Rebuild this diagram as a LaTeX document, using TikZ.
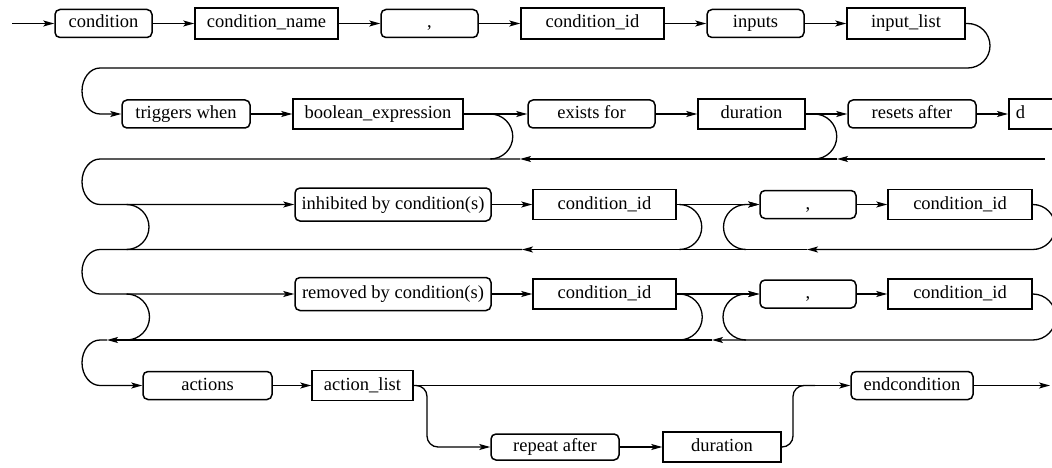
\documentclass[tikz,border=0pt]{standalone}
\usepackage{fontspec}
\setmainfont{Liberation Serif}
\usepackage{tikz}
\usetikzlibrary{positioning,arrows.meta}

\begin{document}
\begin{tikzpicture}[
        x=1pt, y=1pt, line width=1.3pt,
        font=\fontsize{18.5}{22}\selectfont,
        kw/.style={draw, rounded corners=5pt, line width=1.5pt, minimum height=28pt, inner sep=0pt, text height=13pt, text depth=4pt},
        nt/.style={draw, rectangle, line width=1.5pt, minimum height=30pt, inner sep=0pt, text height=13pt, text depth=4pt},
        msg/.style={-{Stealth[length=11pt,width=6pt,inset=2.5pt]}}
    ]
        \useasboundingbox (0,0) rectangle (1052,-468);
        \clip (0,0) rectangle (1052,-468);

        % Row 1: header
        \coordinate (in) at (12,-23.5);
        \node[kw, minimum width=97pt] (cond) at (103.5,-23.5) {condition};
        \node[nt, minimum width=143pt, minimum height=31pt] (cname) at (266.5,-23.5) {condition\_name};
        \node[kw, minimum width=97pt] (comma1) at (429.5,-23.5) {,};
        \node[nt, minimum width=143pt, minimum height=31pt] (cid1) at (592.5,-23.5) {condition\_id};
        \node[kw, minimum width=97pt] (inp) at (755.5,-23.5) {inputs};
        \node[nt, minimum width=118pt, minimum height=31pt] (ilist) at (906,-23.5) {input\_list};

        % Row 2: trigger
        \node[kw, minimum width=128pt] (trig) at (186,-114) {triggers when};
        \node[nt, minimum width=170pt] (bexp) at (378,-114) {boolean\_expression};
        \node[kw, minimum width=127pt] (exists) at (591.5,-114) {exists for};
        \node[nt, minimum width=107pt] (dur1) at (751.5,-114) {duration};
        \node[kw, minimum width=128pt] (resets) at (912,-114) {resets after};
        \node[nt, anchor=west, minimum width=60pt, text width=46pt, align=left] (dd) at (1008,-114) {d};
        \coordinate (r2e) at (1045,-159);

        % Row 3: inhibited by
        \node[kw, minimum width=196pt, minimum height=33pt] (inh) at (393,-204.5) {inhibited by condition(s)};
        \node[nt, minimum width=143pt] (cidA) at (604.5,-204.5) {condition\_id};
        \node[kw, minimum width=96pt] (commaA) at (808,-204.5) {,};
        \node[nt, minimum width=144pt] (cidB) at (960,-204.5) {condition\_id};

        % Row 4: removed by
        \node[kw, minimum width=196pt, minimum height=33pt] (rem) at (393,-294) {removed by condition(s)};
        \node[nt, minimum width=143pt] (cidC) at (604.5,-294) {condition\_id};
        \node[kw, minimum width=96pt] (commaB) at (808,-294) {,};
        \node[nt, minimum width=144pt] (cidD) at (960,-294) {condition\_id};

        % Row 5: actions
        \node[kw, minimum width=129pt] (acts) at (207.5,-385.5) {actions};
        \node[nt, minimum width=101pt] (alist) at (362.5,-385.5) {action\_list};
        \node[kw, minimum width=122pt] (endc) at (912,-385.5) {endcondition};
        \node[kw, minimum width=128pt, minimum height=26pt] (rep) at (555,-447) {repeat after};
        \node[nt, minimum width=118pt] (dur2) at (722,-447) {duration};
        \coordinate (out) at (1050,-385.5);

        % --- Row 1 ---
        \draw[msg] (in) -- (cond);
        \draw[msg] (cond) -- (cname);
        \draw[msg] (cname) -- (comma1);
        \draw[msg] (comma1) -- (cid1);
        \draw[msg] (cid1) -- (inp);
        \draw[msg] (inp) -- (ilist);
        \draw[msg] (ilist.east) -- ++(2,0) arc[start angle=90, end angle=-90, radius=22.25]
            -- (100,-68) arc[start angle=90, end angle=270, x radius=18, y radius=23] -- (trig.west);

        % --- Row 2 ---
        \draw[msg] (trig) -- (bexp);
        \draw[msg] (bexp) -- (exists);
        \draw[msg] (exists) -- (dur1);
        \draw[msg] (dur1) -- (resets);
        \draw[msg] (resets) -- (dd);
        \draw (bexp.east) ++(26.5,0) arc[start angle=90, end angle=-90, radius=22.5];
        \draw (dur1.east) ++(8.5,0) arc[start angle=90, end angle=-90, radius=22.5];
        \draw[msg] (r2e) -- (837,-159);
        \draw[msg] (837,-159) -- (520,-159);
        \draw[msg] (520,-159) -- (100,-159) arc[start angle=90, end angle=270, x radius=18, y radius=22.75] -- (inh.west);

        % --- Row 3 ---
        \draw (126.5,-204.5) arc[start angle=90, end angle=-90, radius=22.5];
        \draw[msg] (inh) -- (cidA);
        \draw[msg] (cidA) -- (commaA);
        \draw (cidA.east) ++(2.5,0) arc[start angle=90, end angle=-90, radius=22.5];
        \draw[msg] (746,-249.5) arc[start angle=270, end angle=90, radius=22.5] -- (commaA.west);
        \draw[msg] (commaA) -- (cidB);
        \draw[msg] (cidB.east) arc[start angle=90, end angle=-90, radius=22.5] -- (807,-249.5);
        \draw[msg] (807,-249.5) -- (522,-249.5);
        \draw[msg] (522,-249.5) -- (100,-249.5) arc[start angle=90, end angle=270, x radius=18, y radius=22.25] -- (rem.west);

        % --- Row 4 ---
        \draw (126.5,-294) arc[start angle=90, end angle=-90, radius=23];
        \draw[msg] (rem) -- (cidC);
        \draw[msg] (cidC) -- (commaB);
        \draw (cidC.east) ++(2.5,0) arc[start angle=90, end angle=-90, radius=23];
        \draw[msg] (746,-340) arc[start angle=270, end angle=90, radius=23] -- (commaB.west);
        \draw[msg] (commaB) -- (cidD);
        \draw[msg] (cidD.east) arc[start angle=90, end angle=-90, radius=23] -- (712,-340);
        \draw[msg] (712,-340) -- (107,-340);
        \draw[msg] (107,-340) -- (100,-340) arc[start angle=90, end angle=270, x radius=18, y radius=22.75] -- (acts.west);

        % --- Row 5 ---
        \draw[msg] (acts) -- (alist);
        \draw[msg] (alist) -- (endc);
        \draw[msg, rounded corners=11pt] (alist.east) -- (427,-385.5) -- (427,-447) -- (rep.west);
        \draw[msg] (rep) -- (dur2);
        \draw[rounded corners=11pt] (dur2.east) -- (793,-447) -- (793,-385.5) -- (815,-385.5);
        \draw[msg] (endc) -- (out);
    \end{tikzpicture}
\end{document}
